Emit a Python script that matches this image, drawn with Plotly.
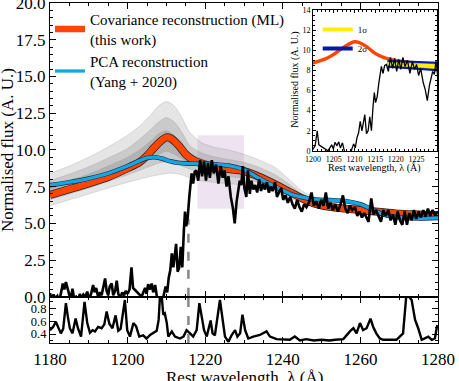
import plotly.graph_objects as go

FONT = "'Liberation Serif', 'DejaVu Serif', serif"
RED = "#FF4500"
BLUE = "#16A6E0"
LYA = 1215.67

# observed spectrum (main panel + inset)
spec_wave = [
    1180.0, 1180.4, 1180.9, 1181.4, 1181.9, 1182.4, 1182.9, 1183.3, 1183.7, 1184.1,
    1184.5, 1184.9, 1185.3, 1185.8, 1186.2, 1186.7, 1187.2, 1187.7, 1188.1, 1188.6,
    1189.1, 1189.6, 1190.1, 1190.6, 1191.1, 1191.5, 1191.9, 1192.4, 1192.9, 1193.3,
    1193.8, 1194.2, 1194.6, 1195.0, 1195.4, 1195.9, 1196.3, 1196.8, 1197.2, 1197.6,
    1198.1, 1198.6, 1199.1, 1199.5, 1200.0, 1200.5, 1201.0, 1201.4, 1203.6, 1204.0,
    1204.5, 1204.9, 1205.3, 1205.8, 1206.2, 1206.6, 1207.1, 1207.5, 1208.0, 1208.4,
    1208.9, 1209.3, 1209.8, 1210.2, 1210.6, 1211.0, 1211.4, 1211.8, 1212.2, 1212.5,
    1212.9, 1213.3, 1213.7, 1214.1, 1214.5, 1214.8, 1215.1, 1215.5, 1215.9, 1216.2,
    1216.5, 1216.9, 1217.3, 1217.7, 1218.2, 1218.7, 1219.2, 1219.7, 1220.2, 1220.7,
    1221.2, 1221.7, 1222.2, 1222.8, 1223.4, 1224.0, 1224.5, 1225.0, 1225.5, 1226.0,
    1226.6, 1227.1, 1227.6, 1228.1, 1228.5, 1228.9, 1229.3, 1229.7, 1230.1, 1230.6,
    1231.0, 1231.5, 1231.9, 1232.4, 1232.9, 1233.4, 1233.9, 1234.4, 1234.9, 1235.4,
    1235.9, 1236.4, 1236.9, 1237.4, 1238.0, 1238.5, 1239.0, 1239.6, 1240.1, 1240.7,
    1241.3, 1241.9, 1242.5, 1243.1, 1243.7, 1244.3, 1244.9, 1245.5, 1246.1, 1246.7,
    1247.4, 1248.0, 1248.6, 1249.3, 1249.9, 1250.5, 1251.1, 1251.7, 1252.3, 1252.9,
    1253.5, 1254.2, 1254.8, 1255.5, 1256.1, 1256.7, 1257.3, 1257.9, 1258.6, 1259.2,
    1259.8, 1260.4, 1261.0, 1261.6, 1262.1, 1262.8, 1263.4, 1264.0, 1264.7, 1265.3,
    1265.9, 1266.5, 1267.2, 1267.8, 1268.4, 1269.0, 1269.6, 1270.2, 1270.8, 1271.4,
    1272.0, 1272.6, 1273.2, 1273.8, 1274.4, 1275.0, 1275.6, 1276.2, 1276.8, 1277.4,
    1278.0, 1278.6, 1279.2, 1280.0,
]
spec_flux = [
    0.25, -0.2, 0.15, -0.1, 0.05, -0.3, 0.35, 0.9, 0.5, 1.0,
    0.6, 0.1, -0.2, 0.55, -0.1, 0.0, -0.3, 0.2, -0.1, 0.15,
    0.0, 0.35, -0.15, 0.2, 0.8, 0.3, 0.6, 0.0, 0.3, 0.1,
    0.85, 1.25, 0.4, 0.1, 0.7, 0.9, 0.1, 0.4, 1.1, 0.2,
    -0.1, 0.3, 0.1, 0.4, 0.2, 0.5, 2.0, 0.6, 0.0, 0.3,
    0.6, 0.2, 0.85, 0.5, 0.9, 0.3, 0.8, 0.1, -0.6, -0.3,
    -0.8, 0.1, 0.7, 0.3, 1.3, 1.8, 2.95, 2.0, 3.2, 3.6,
    1.7, 2.0, 3.4, 2.0, 4.5, 5.8, 4.8, 5.4, 6.8, 7.8,
    8.4, 7.7, 8.5, 8.6, 7.9, 9.3, 8.2, 9.2, 7.9, 9.1,
    8.1, 9.3, 8.4, 9.0, 7.7, 8.9, 8.1, 8.6, 7.5, 8.2,
    6.8, 6.1, 5.0, 6.5, 7.3, 7.9, 7.6, 8.9, 7.4, 6.8,
    8.6, 7.0, 7.9, 7.3, 7.6, 7.1, 8.0, 7.2, 7.7, 7.3,
    7.8, 7.1, 7.5, 7.2, 7.8, 6.8, 7.1, 7.4, 6.6, 6.9,
    6.4, 6.8, 6.3, 6.0, 6.6, 6.1, 5.8, 6.3, 6.1, 6.4,
    7.1, 6.2, 6.5, 6.0, 6.6, 6.2, 7.1, 6.0, 6.4, 5.9,
    6.3, 5.8, 6.2, 6.9, 6.0, 5.7, 6.2, 5.9, 6.1, 5.5,
    5.8, 5.4, 5.7, 5.3, 5.1, 6.7, 5.6, 5.9, 5.4, 5.1,
    5.9, 5.5, 5.9, 5.2, 5.6, 4.9, 5.8, 5.2, 4.9, 5.8,
    4.9, 5.7, 5.2, 5.9, 5.3, 5.8, 5.4, 5.9, 5.45, 6.0,
    5.5, 5.9, 5.6, 5.8,
]

# lower panel
noise_wave = [
    1180.0, 1180.8, 1181.5, 1182.2, 1182.8, 1183.4, 1184.1, 1184.6, 1185.1, 1185.8,
    1186.6, 1187.2, 1188.0, 1188.9, 1189.6, 1190.3, 1191.0, 1191.6, 1192.4, 1193.3,
    1194.0, 1194.6, 1195.3, 1196.1, 1196.9, 1197.6, 1198.2, 1199.3, 1199.9, 1200.6,
    1201.5, 1202.2, 1203.0, 1204.0, 1204.9, 1205.8, 1206.6, 1207.5, 1208.0, 1208.4,
    1208.8, 1209.2, 1209.6, 1210.1, 1210.5, 1211.4, 1212.2, 1213.5, 1214.4, 1215.2,
    1216.1, 1216.9, 1217.8, 1218.5, 1219.1, 1219.7, 1220.4, 1221.4, 1221.9, 1222.5,
    1223.8, 1224.5, 1225.1, 1226.0, 1226.8, 1227.7, 1228.3, 1229.0, 1229.6, 1230.3,
    1231.1, 1232.4, 1234.1, 1235.8, 1236.7, 1238.4, 1240.1, 1241.8, 1243.1, 1244.4,
    1246.0, 1248.0, 1250.0, 1252.0, 1253.5, 1255.6, 1257.3, 1258.2, 1259.0, 1259.9,
    1260.7, 1261.6, 1262.6, 1263.3, 1264.1, 1265.0, 1265.9, 1267.6, 1269.3, 1271.0,
    1271.9, 1272.3, 1273.2, 1274.1, 1274.9, 1275.8, 1276.7, 1277.5, 1278.4, 1279.2,
    1279.8,
]
noise_val = [
    0.46, 0.51, 0.59, 0.50, 0.41, 0.48, 0.88, 0.67, 0.49, 0.41,
    0.64, 0.49, 0.36, 0.90, 0.57, 0.42, 0.46, 0.44, 0.51, 0.49,
    0.55, 0.75, 0.56, 0.49, 0.69, 0.45, 0.48, 0.93, 0.46, 0.36,
    0.57, 0.52, 0.36, 0.38, 0.33, 0.385, 0.41, 0.45, 0.62, 1.05,
    0.98, 0.70, 0.72, 0.57, 0.36, 0.44, 0.36, 0.33, 0.36, 0.46,
    0.41, 0.36, 0.46, 0.88, 0.67, 0.46, 0.36, 0.61, 0.41, 0.38,
    0.93, 0.57, 0.36, 0.28, 0.38, 0.46, 0.36, 0.41, 0.70, 0.46,
    0.33, 0.36, 0.385, 0.44, 0.36, 0.32, 0.31, 0.31, 0.36, 0.30,
    0.32, 0.30, 0.31, 0.30, 0.31, 0.32, 0.44, 0.49, 0.41, 0.57,
    0.46, 0.49, 0.64, 0.51, 0.41, 0.33, 0.31, 0.31, 0.31, 0.41,
    1.05, 1.0, 0.93, 0.62, 0.49, 0.31, 0.33, 0.36, 0.31, 0.33,
    0.54,
]

# reconstructions
recon_wave = [
    1180, 1185, 1190, 1195, 1200, 1203, 1205, 1207, 1209, 1210,
    1211, 1213, 1215, 1217, 1220, 1223, 1226, 1230, 1234, 1238,
    1242, 1245, 1248, 1252, 1256, 1260, 1263, 1266, 1270, 1275, 1280,
]
ml_flux = [
    6.93, 7.32, 7.72, 8.15, 8.75, 9.15, 9.6, 10.2, 10.7, 10.85,
    10.8, 10.35, 9.7, 9.3, 9.0, 8.82, 8.7, 8.55, 8.15, 7.65,
    7.1, 6.7, 6.35, 6.12, 6.0, 5.9, 5.82, 5.75, 5.65, 5.6, 5.55,
]
pca_flux = [
    7.6, 7.8, 8.05, 8.4, 8.9, 9.25, 9.45, 9.5, 9.4, 9.3,
    9.22, 9.12, 9.08, 9.06, 9.04, 9.0, 8.93, 8.65, 8.05, 7.5,
    7.0, 6.78, 6.63, 6.58, 6.52, 6.3, 5.95, 5.6, 5.4, 5.34, 5.37,
]

# spread of the sampled reconstructions (grey bundle)
bundle_wave = [1180, 1185, 1190, 1195, 1200, 1203, 1206, 1208, 1210, 1212, 1214,
               1216, 1219, 1222, 1226, 1230, 1234, 1238, 1242, 1245, 1248]
outer_hi = [8.4, 8.9, 9.5, 10.2, 11.0, 11.6, 12.4, 13.0, 13.3, 13.0, 12.2,
            11.2, 10.5, 10.2, 10.0, 9.7, 9.3, 8.8, 7.9, 7.2, 6.7]
outer_lo = [6.2, 6.6, 7.0, 7.4, 7.8, 8.0, 8.2, 8.3, 8.4, 8.4, 8.3,
            8.1, 7.9, 7.8, 7.7, 7.6, 7.4, 7.1, 6.7, 6.4, 6.3]
mid_hi = [7.9, 8.35, 8.85, 9.45, 10.1, 10.7, 11.4, 11.9, 12.2, 11.9, 11.2,
          10.3, 9.8, 9.55, 9.35, 9.15, 8.8, 8.3, 7.6, 7.0, 6.6]
mid_lo = [6.6, 7.0, 7.4, 7.85, 8.3, 8.6, 8.9, 9.1, 9.2, 9.1, 8.9,
          8.7, 8.45, 8.3, 8.2, 8.05, 7.75, 7.35, 6.9, 6.55, 6.4]
core_hi = [7.5, 7.9, 8.35, 8.9, 9.5, 10.0, 10.6, 11.1, 11.3, 11.0, 10.4,
           9.8, 9.4, 9.15, 8.95, 8.8, 8.45, 7.95, 7.35, 6.85, 6.5]
core_lo = [6.9, 7.3, 7.7, 8.15, 8.65, 9.0, 9.4, 9.7, 9.9, 9.7, 9.4,
           9.1, 8.8, 8.6, 8.45, 8.3, 7.95, 7.5, 7.0, 6.65, 6.42]

# inset confidence bands
band_wave = [1218.0, 1230.3]
sig2_hi = [8.97, 8.77]
sig2_lo = [8.36, 8.01]
sig1_hi = [8.82, 8.62]
sig1_lo = [8.52, 8.17]

fit_window = [1218, 1230]
fit_flux = [6, 11]
masked = [1227.4, 1228.9]
lya_mark_top = 5.3


fig = go.Figure()

bundle_layers = [
    (outer_hi, outer_lo, "rgba(160,160,160,0.28)"),
    (mid_hi, mid_lo, "rgba(140,140,140,0.30)"),
    (core_hi, core_lo, "rgba(120,120,120,0.28)"),
]
for hi, lo, col in bundle_layers:
    fig.add_trace(go.Scatter(
        x=bundle_wave + bundle_wave[::-1], y=hi + lo[::-1],
        fill="toself", fillcolor=col, mode="lines",
        line=dict(color="rgba(150,150,150,0.5)", width=0.6, shape="spline", smoothing=0.7),
        showlegend=False, hoverinfo="skip",
    ))

# reconstructions with dark edge
fig.add_trace(go.Scatter(x=recon_wave, y=ml_flux, mode="lines", showlegend=False,
                         line=dict(color="#222", width=8, shape="spline", smoothing=0.8)))
fig.add_trace(go.Scatter(x=recon_wave, y=ml_flux, mode="lines", legend="legend",
                         name="Covariance reconstruction (ML)<br>(this work)",
                         line=dict(color=RED, width=6.5, shape="spline", smoothing=0.8)))
fig.add_trace(go.Scatter(x=recon_wave, y=pca_flux, mode="lines", showlegend=False,
                         line=dict(color="#1a2a55", width=4.6, shape="spline", smoothing=0.8)))
fig.add_trace(go.Scatter(x=recon_wave, y=pca_flux, mode="lines", legend="legend",
                         name="PCA reconstruction<br>(Yang + 2020)",
                         line=dict(color=BLUE, width=3.3, shape="spline", smoothing=0.8)))

fig.add_trace(go.Scatter(x=spec_wave, y=spec_flux, mode="lines", showlegend=False,
                         line=dict(color="black", width=2.6)))

# lower panel
fig.add_trace(go.Scatter(x=noise_wave, y=noise_val, mode="lines", showlegend=False,
                         xaxis="x2", yaxis="y2", line=dict(color="black", width=2.4)))

# inset
fig.add_trace(go.Scatter(x=recon_wave, y=ml_flux, mode="lines", showlegend=False,
                         xaxis="x3", yaxis="y3",
                         line=dict(color=RED, width=3.5, shape="spline", smoothing=0.8)))
fig.add_trace(go.Scatter(x=band_wave, y=sig2_lo, mode="lines", showlegend=False,
                         xaxis="x3", yaxis="y3", line=dict(color="#0019B0", width=1.8)))
fig.add_trace(go.Scatter(x=band_wave, y=sig2_hi, mode="lines", showlegend=False,
                         xaxis="x3", yaxis="y3", fill="tonexty", fillcolor="#0019B0",
                         line=dict(color="#0019B0", width=1.8)))
fig.add_trace(go.Scatter(x=band_wave, y=sig1_lo, mode="lines", showlegend=False,
                         xaxis="x3", yaxis="y3", line=dict(color="#FFEE00", width=0.5)))
fig.add_trace(go.Scatter(x=band_wave, y=sig1_hi, mode="lines", showlegend=False,
                         xaxis="x3", yaxis="y3", fill="tonexty", fillcolor="#FFEE00",
                         line=dict(color="#FFEE00", width=0.5)))
fig.add_trace(go.Scatter(x=spec_wave, y=spec_flux, mode="lines", showlegend=False,
                         xaxis="x3", yaxis="y3", line=dict(color="black", width=1.3)))
# legend entries for the inset bands
fig.add_trace(go.Scatter(x=[None], y=[None], mode="lines", name="1σ", legend="legend2",
                         xaxis="x3", yaxis="y3", line=dict(color="#FFEE00", width=4)))
fig.add_trace(go.Scatter(x=[None], y=[None], mode="lines", name="2σ", legend="legend2",
                         xaxis="x3", yaxis="y3", line=dict(color="#0019B0", width=4)))

fig.add_shape(type="rect", xref="x", yref="y", x0=fit_window[0], x1=fit_window[1],
              y0=fit_flux[0], y1=fit_flux[1], fillcolor="rgba(160,100,180,0.18)",
              line=dict(width=0), layer="below")
fig.add_shape(type="line", xref="x", yref="y", x0=LYA, x1=LYA, y0=0, y1=lya_mark_top,
              line=dict(color="#888", width=2.5, dash="dash"), layer="below")
fig.add_shape(type="line", xref="x2", yref="y2 domain", x0=LYA, x1=LYA, y0=0, y1=1,
              line=dict(color="#888", width=2.5, dash="dash"), layer="below")
fig.add_shape(type="rect", xref="x3", yref="y3 domain", x0=masked[0], x1=masked[1],
              y0=0, y1=1, fillcolor="#D3D3D3", line=dict(width=0), layer="below")
fig.add_shape(type="line", xref="x3", yref="y3 domain", x0=LYA, x1=LYA, y0=0, y1=1,
              line=dict(color="#777", width=1, dash="dash"), layer="below")

axis_style = dict(showline=True, linecolor="black", linewidth=1.2, mirror="ticks",
                  ticks="inside", ticklen=6, tickwidth=1, tickcolor="black",
                  showgrid=False, zeroline=False, automargin=False,
                  ticklabeloverflow="allow")
inset_style = dict(showline=True, linecolor="black", linewidth=1, mirror="ticks",
                   ticks="inside", ticklen=3, tickwidth=0.8, tickcolor="black",
                   showgrid=False, zeroline=False, automargin=False,
                   tickfont=dict(size=8))

fig.update_layout(
    template="none",
    width=459, height=381,
    margin=dict(l=50, r=21, t=3, b=38),
    paper_bgcolor="white", plot_bgcolor="white",
    font=dict(family=FONT, size=17, color="black"),
    xaxis=dict(domain=[0, 1], anchor="y", range=[1180, 1280], showticklabels=False,
               dtick=20, tick0=1180,
               minor=dict(ticks="inside", dtick=5, ticklen=3, tickcolor="black"), **axis_style),
    yaxis=dict(domain=[0.136, 1], anchor="x", range=[0, 20], dtick=2.5, tickformat=".1f",
               minor=dict(ticks="inside", dtick=0.5, ticklen=3, tickcolor="black"), **axis_style),
    xaxis2=dict(domain=[0, 1], anchor="y2", range=[1180, 1280], matches="x",
                dtick=20, tick0=1180,
                minor=dict(ticks="inside", dtick=5, ticklen=3, tickcolor="black"), **axis_style),
    yaxis2=dict(domain=[0, 0.136], anchor="x2", range=[0.26, 0.98], tickvals=[0.4, 0.6, 0.8],
                tickformat=".1f", tickfont=dict(size=12.5),
                minor=dict(ticks="inside", dtick=0.1, ticklen=3, tickcolor="black"), **axis_style),
    xaxis3=dict(domain=[0.678, 0.997], anchor="y3", range=[1200, 1229.9], dtick=5, tick0=1200,
                minor=dict(ticks="inside", dtick=1, ticklen=1.5, tickcolor="black"), **inset_style),
    yaxis3=dict(domain=[0.565, 0.979], anchor="x3", range=[0, 14], dtick=2,
                minor=dict(ticks="inside", dtick=0.5, ticklen=1.5, tickcolor="black"), **inset_style),
    legend=dict(x=0.0, y=1.0, xanchor="left", yanchor="top", bgcolor="rgba(0,0,0,0)",
                font=dict(size=15), tracegroupgap=2, traceorder="normal"),
    legend2=dict(x=0.69, y=0.965, xanchor="left", yanchor="top", bgcolor="rgba(0,0,0,0)",
                 font=dict(size=9), tracegroupgap=0, traceorder="normal", itemwidth=30),
    annotations=[
        dict(text="Rest wavelength, λ (Å)", xref="paper", yref="paper", x=0.5, y=-0.1,
             xanchor="center", yanchor="middle", showarrow=False, font=dict(size=17)),
        dict(text="Normalised flux (A. U.)", xref="paper", yref="paper", x=-0.108, y=0.568,
             xanchor="center", yanchor="middle", textangle=-90, showarrow=False,
             font=dict(size=17)),
        dict(text="Rest wavelength, λ (Å)", xref="paper", yref="paper", x=0.8376, y=0.515,
             xanchor="center", yanchor="middle", showarrow=False, font=dict(size=10)),
        dict(text="Normalised flux (A. U.)", xref="paper", yref="paper", x=0.631, y=0.774,
             xanchor="center", yanchor="middle", textangle=-90, showarrow=False,
             font=dict(size=10)),
    ],
)

# the page's default body margin would shift the 459x381 figure out of the window
fig.write_html("out.html", config={"displayModeBar": False},
               post_script="document.body.style.margin='0px';")
